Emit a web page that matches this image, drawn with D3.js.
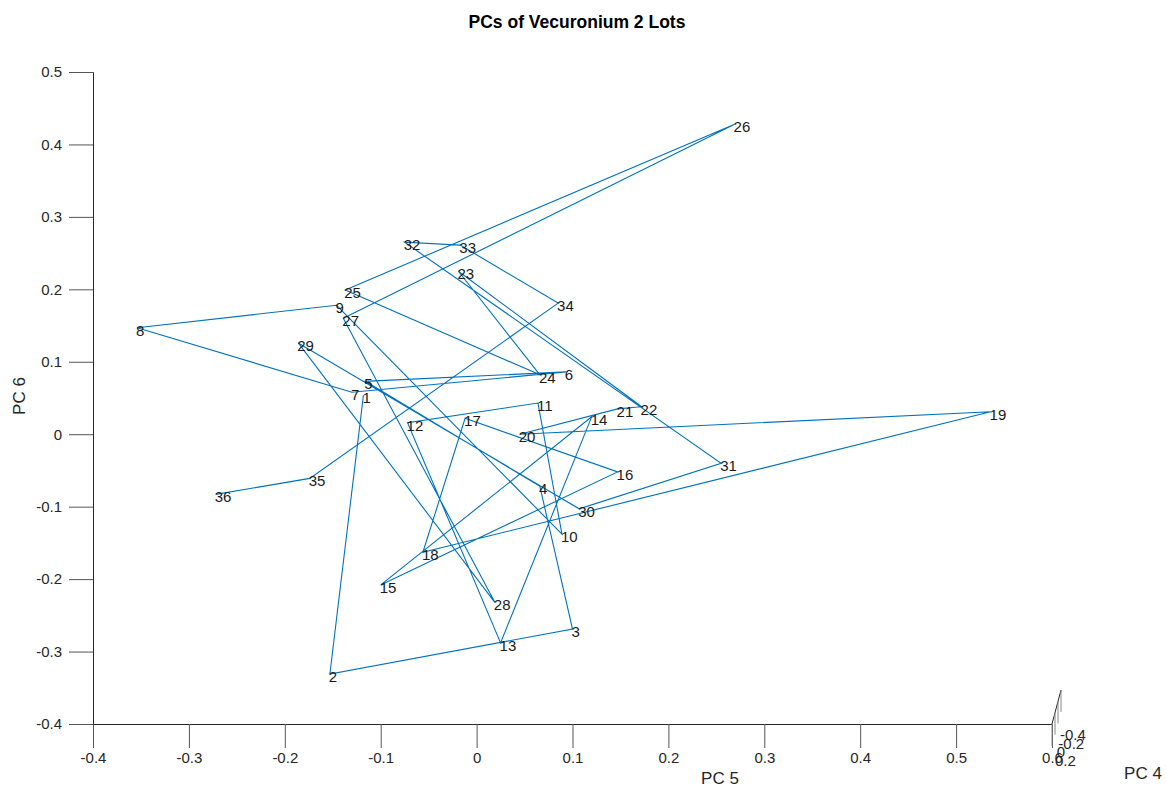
<!DOCTYPE html>
<html>
<head>
<meta charset="utf-8">
<script src="https://cdn.jsdelivr.net/npm/d3@7"></script>
<style>
  html, body { margin: 0; padding: 0; background: #fff; }
  svg { display: block; font-family: "Liberation Sans", Arial, Helvetica, sans-serif; }
</style>
</head>
<body>
<svg id="chart" width="1167" height="789"></svg>
<script>
// Sample labels (1..36), PC 5 scores (x) and PC 6 scores (y), joined in order
const labels = ["1","2","3","4","5","6","7","8","9","10","11","12","13","14","15","16","17","18",
                "19","20","21","22","23","24","25","26","27","28","29","30","31","32","33","34","35","36"];
const pc5 = [-0.118, -0.153, 0.100, 0.066, -0.116, 0.093, -0.130, -0.354, -0.146, 0.089,
             0.064, -0.072, 0.025, 0.120, -0.100, 0.147, -0.012, -0.056, 0.536, 0.045,
             0.147, 0.172, -0.019, 0.066, -0.137, 0.269, -0.139, 0.019, -0.186, 0.107,
             0.255, -0.075, -0.017, 0.085, -0.174, -0.272];
const pc6 = [0.054, -0.331, -0.269, -0.072, 0.073, 0.086, 0.058, 0.147, 0.178, -0.138,
             0.043, 0.016, -0.288, 0.024, -0.208, -0.052, 0.022, -0.163, 0.031, 0.000,
             0.035, 0.038, 0.225, 0.082, 0.199, 0.428, 0.160, -0.232, 0.126, -0.103,
             -0.040, 0.265, 0.261, 0.181, -0.061, -0.083];
const xTicks = [-0.4, -0.3, -0.2, -0.1, 0, 0.1, 0.2, 0.3, 0.4, 0.5, 0.6];
const yTicks = [-0.4, -0.3, -0.2, -0.1, 0, 0.1, 0.2, 0.3, 0.4, 0.5];
const zTicks = [-0.4, -0.2, 0, 0.2];
const titleText = "PCs of Vecuronium 2 Lots";

const svg = d3.select("#chart");
const axisColor = "#262626";
const tickColor = "#555";
const lineColor = "#0072BD";
const fontFam = "Liberation Sans, Arial, sans-serif";

const x = d3.scaleLinear().domain([-0.4, 0.6]).range([93, 1052]);
const y = d3.scaleLinear().domain([-0.4, 0.5]).range([724, 72]);

// Title
svg.append("text")
  .attr("x", 577).attr("y", 28)
  .attr("text-anchor", "middle")
  .attr("font-size", 17.5).attr("font-weight", "bold")
  .attr("fill", "#000")
  .text(titleText);

const fmt = d => (d === 0 ? "0" : d3.format(".1f")(d).replace("−", "-"));

// X axis
const xAxis = d3.axisBottom(x).tickValues(xTicks).tickSize(24).tickPadding(4).tickFormat(fmt);
const gx = svg.append("g").attr("transform", "translate(0,724)").call(xAxis);
gx.select(".domain").attr("stroke", axisColor).attr("stroke-width", 1);
gx.selectAll(".tick line").attr("stroke", tickColor).attr("stroke-width", 1);
gx.selectAll(".tick text").attr("fill", axisColor).attr("font-size", 15)
  .attr("font-family", fontFam);

// Y axis
const yAxis = d3.axisLeft(y).tickValues(yTicks).tickSize(24).tickPadding(7).tickFormat(fmt);
const gy = svg.append("g").attr("transform", "translate(93,0)").call(yAxis);
gy.select(".domain").attr("stroke", axisColor).attr("stroke-width", 1);
gy.selectAll(".tick line").attr("stroke", tickColor).attr("stroke-width", 1);
gy.selectAll(".tick text").attr("fill", axisColor).attr("font-size", 15)
  .attr("font-family", fontFam);

// Tiny, nearly edge-on Z axis (PC 4)
const zx = d3.scaleLinear().domain([0.2, -0.4]).range([1052, 1061]);
const zy = d3.scaleLinear().domain([0.2, -0.4]).range([724, 690]);
svg.append("line")
  .attr("x1", zx(0.2)).attr("y1", zy(0.2))
  .attr("x2", zx(-0.4)).attr("y2", zy(-0.4))
  .attr("stroke", axisColor).attr("stroke-width", 1);
svg.selectAll(".ztick").data(zTicks).enter().append("line")
  .attr("class", "ztick")
  .attr("x1", d => zx(d)).attr("y1", d => zy(d))
  .attr("x2", d => zx(d)).attr("y2", d => zy(d) + 22)
  .attr("stroke", "#888").attr("stroke-width", 1);
const zlx = d3.scaleLinear().domain([-0.4, 0.2]).range([1060, 1055]);
const zly = d3.scaleLinear().domain([-0.4, 0.2]).range([740, 766]);
svg.selectAll(".zlabel").data(zTicks).enter().append("text")
  .attr("class", "zlabel")
  .attr("x", d => zlx(d)).attr("y", d => zly(d))
  .attr("font-size", 15).attr("fill", axisColor)
  .text(d => fmt(d));

// Axis labels
svg.append("text")
  .attr("transform", "translate(25,396) rotate(-90)")
  .attr("text-anchor", "middle")
  .attr("font-size", 17).attr("fill", axisColor)
  .text("PC 6");
svg.append("text")
  .attr("x", 720).attr("y", 784)
  .attr("text-anchor", "middle")
  .attr("font-size", 17).attr("fill", axisColor)
  .text("PC 5");
svg.append("text")
  .attr("x", 1143).attr("y", 779)
  .attr("text-anchor", "middle")
  .attr("font-size", 17).attr("fill", axisColor)
  .text("PC 4");

// Data line
const pts = labels.map((l, i) => ({ label: l, x: pc5[i], y: pc6[i] }));
const line = d3.line().x(d => x(d.x)).y(d => y(d.y));
svg.append("path")
  .datum(pts)
  .attr("d", line)
  .attr("fill", "none")
  .attr("stroke", lineColor)
  .attr("stroke-width", 1.1)
  .attr("stroke-linejoin", "miter");

// Point labels
svg.selectAll(".plabel").data(pts).enter().append("text")
  .attr("class", "plabel")
  .attr("x", d => x(d.x) - 1)
  .attr("y", d => y(d.y) + 8)
  .attr("font-size", 15)
  .attr("fill", "#1a1a1a")
  .text(d => d.label);
</script>
</body>
</html>
